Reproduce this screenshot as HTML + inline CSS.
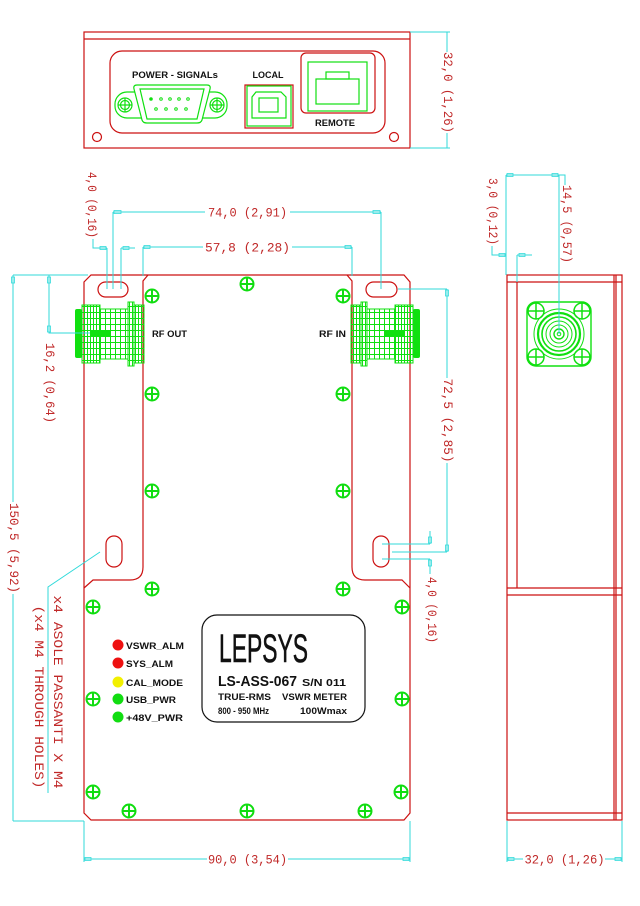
<!DOCTYPE html>
<html><head><meta charset="utf-8"><style>
html,body{margin:0;padding:0;background:#fff;}
svg{display:block;}
.r{fill:none;stroke:#cc1010;stroke-width:1.2;}
.c{fill:none;stroke:#30dada;stroke-width:1;}
.g{fill:none;stroke:#10e010;stroke-width:1.2;}
.dt{font-family:"Liberation Mono",monospace;font-size:12.5px;fill:#c02828;}
.bk{font-family:"Liberation Sans",sans-serif;font-weight:bold;fill:#111;}
</style></head><body>
<svg width="640" height="906" viewBox="0 0 640 906" xmlns="http://www.w3.org/2000/svg">
<defs>
<g id="sc"><circle r="6.5" fill="none" stroke="#10dd10" stroke-width="2"/><path d="M-6.5,0H6.5M0,-6.5V6.5" stroke="#10dd10" stroke-width="2"/></g>
<pattern id="p3" width="3" height="6" patternUnits="userSpaceOnUse"><path d="M0.5,0V6M0,0.5H3" stroke="#10e010" stroke-width="1" fill="none"/></pattern>
<pattern id="p5" width="5" height="6" patternUnits="userSpaceOnUse"><path d="M0.5,0V6M0,0.5H5" stroke="#10e010" stroke-width="1" fill="none"/></pattern>
<g id="conn">
 <rect x="75" y="309" width="7" height="49" rx="2" fill="#10e010"/>
 <rect x="82" y="305" width="18" height="58" fill="url(#p3)" stroke="#10e010"/>
 <rect x="100" y="309" width="28" height="50" fill="url(#p5)" stroke="#10e010"/>
 <rect x="128" y="302" width="6" height="64" fill="url(#p3)" stroke="#10e010"/>
 <rect x="134" y="305" width="10" height="58" fill="url(#p3)" stroke="#10e010"/>
 <rect x="90" y="330" width="20" height="7" fill="#10e010"/>
</g>
</defs>

<!-- ===== TOP PANEL VIEW ===== -->
<rect class="r" x="84" y="32" width="326" height="116"/>
<line class="r" x1="84" y1="39" x2="410" y2="39" stroke-width="1.6"/>
<rect class="r" x="110" y="51" width="275" height="82" rx="12"/>
<circle class="r" cx="97" cy="137" r="4.5"/>
<circle class="r" cx="394" cy="137" r="4.5"/>
<text class="bk" x="175" y="78" font-size="9" text-anchor="middle" textLength="86" lengthAdjust="spacingAndGlyphs">POWER - SIGNALs</text>
<text class="bk" x="268" y="78" font-size="9" text-anchor="middle" textLength="31" lengthAdjust="spacingAndGlyphs">LOCAL</text>
<text class="bk" x="335" y="126" font-size="9" text-anchor="middle" textLength="40" lengthAdjust="spacingAndGlyphs">REMOTE</text>
<!-- DB9 -->
<rect class="g" x="115" y="92" width="112" height="26" rx="12"/>
<path d="M137,85 L207,85 Q211,85 210,89 L202,120 Q201,123 197,123 L147,123 Q143,123 142,120 L134,89 Q133,85 137,85 Z" fill="#fff" stroke="#10e010" stroke-width="1.2"/>
<path d="M140,89 L204,89 L197,119 L147,119 Z" class="g"/>
<circle class="g" cx="125" cy="105" r="7"/><circle class="g" cx="125" cy="105" r="4.5"/><path class="g" d="M118,105H132M125,98V112"/>
<circle class="g" cx="217" cy="105" r="7"/><circle class="g" cx="217" cy="105" r="4.5"/><path class="g" d="M210,105H224M217,98V112"/>
<g fill="none" stroke="#10e010" stroke-width="1">
<circle cx="151" cy="99" r="1.3" fill="#10e010"/><circle cx="161" cy="99" r="1.3"/><circle cx="170" cy="99" r="1.3"/><circle cx="179" cy="99" r="1.3"/><circle cx="188" cy="99" r="1.3"/>
<circle cx="156" cy="109" r="1.3"/><circle cx="166" cy="109" r="1.3"/><circle cx="176" cy="109" r="1.3"/><circle cx="186" cy="109" r="1.3"/>
</g>
<!-- USB -->
<rect class="r" x="245" y="85" width="48" height="43"/>
<rect class="g" x="247" y="86" width="44" height="40" stroke-width="1.6"/>
<path class="g" d="M256,92 L281,92 L286,97 L286,118 L252,118 L252,97 Z" stroke-width="1.6"/>
<rect class="g" x="259" y="98" width="19" height="14" stroke-width="2"/>
<!-- RJ -->
<rect class="r" x="301" y="53" width="74" height="60" rx="5"/>
<rect class="g" x="308" y="62" width="59" height="49"/>
<rect class="g" x="316" y="79" width="43" height="25"/>
<rect class="g" x="326" y="72" width="23" height="7"/>
<!-- dim 32,0 top -->
<path class="c" d="M410,32H450M410,148H450M447,32V52M447,133V148"/>
<text class="dt" transform="translate(447,92.5) rotate(90)" text-anchor="middle" dominant-baseline="central" textLength="81" lengthAdjust="spacingAndGlyphs">32,0 (1,26)</text>

<!-- ===== MAIN FRONT VIEW ===== -->
<path class="r" d="M91,275 L404,275 L410,282 L410,813 L404,820 L91,820 L84,813 L84,282 Z"/>
<path class="r" d="M148,275 L143,281 L143,567 Q143,580 130,580 L93,580 L84,588"/>
<path class="r" d="M347,275 L352,281 L352,567 Q352,580 365,580 L402,580 L410,588"/>
<rect class="r" x="98" y="282" width="30" height="15" rx="7.5"/>
<rect class="r" x="366" y="282" width="31" height="15" rx="7.5"/>
<rect class="r" x="106" y="536" width="16" height="31" rx="8"/>
<rect class="r" x="373" y="536" width="16" height="31" rx="8"/>

<use href="#conn"/>
<use href="#conn" transform="translate(495,0) scale(-1,1)"/>
<text class="bk" x="152" y="337" font-size="9.5" textLength="35" lengthAdjust="spacingAndGlyphs">RF OUT</text>
<text class="bk" x="319" y="337" font-size="9.5" textLength="27" lengthAdjust="spacingAndGlyphs">RF IN</text>

<use href="#sc" x="247" y="284"/>
<use href="#sc" x="152" y="296"/><use href="#sc" x="343" y="296"/>
<use href="#sc" x="152" y="394"/><use href="#sc" x="343" y="394"/>
<use href="#sc" x="152" y="491"/><use href="#sc" x="343" y="491"/>
<use href="#sc" x="152" y="589"/><use href="#sc" x="343" y="589"/>
<use href="#sc" x="93" y="607"/><use href="#sc" x="402" y="607"/>
<use href="#sc" x="93" y="699"/><use href="#sc" x="402" y="699"/>
<use href="#sc" x="93" y="792"/><use href="#sc" x="401" y="792"/>
<use href="#sc" x="129" y="811"/><use href="#sc" x="247" y="811"/><use href="#sc" x="365" y="811"/>

<!-- LEDs -->
<circle cx="118" cy="645" r="5.5" fill="#ee1111"/>
<circle cx="118" cy="663" r="5.5" fill="#ee1111"/>
<circle cx="118" cy="682" r="5.5" fill="#f2f000"/>
<circle cx="118" cy="699" r="5.5" fill="#11dd11"/>
<circle cx="118" cy="717" r="5.5" fill="#11dd11"/>
<g class="bk" font-size="9.5">
<text x="126" y="649" textLength="58" lengthAdjust="spacingAndGlyphs">VSWR_ALM</text>
<text x="126" y="667" textLength="47" lengthAdjust="spacingAndGlyphs">SYS_ALM</text>
<text x="126" y="686" textLength="57" lengthAdjust="spacingAndGlyphs">CAL_MODE</text>
<text x="126" y="703" textLength="50" lengthAdjust="spacingAndGlyphs">USB_PWR</text>
<text x="126" y="721" textLength="57" lengthAdjust="spacingAndGlyphs">+48V_PWR</text>
</g>
<!-- label -->
<rect x="202" y="615" width="163" height="107" rx="15" fill="none" stroke="#111" stroke-width="1.2"/>
<text x="219" y="662" font-family="Liberation Sans,sans-serif" font-size="40" fill="#111" stroke="#111" stroke-width="0.6" textLength="89" lengthAdjust="spacingAndGlyphs">LEPSYS</text>
<text class="bk" x="218" y="686" font-size="14.5" textLength="79" lengthAdjust="spacingAndGlyphs">LS-ASS-067</text>
<text class="bk" x="302" y="686" font-size="10" textLength="44" lengthAdjust="spacingAndGlyphs">S/N 011</text>
<text class="bk" x="218" y="700" font-size="9.5" textLength="53" lengthAdjust="spacingAndGlyphs">TRUE-RMS</text>
<text class="bk" x="282" y="700" font-size="9.5" textLength="65" lengthAdjust="spacingAndGlyphs">VSWR METER</text>
<text class="bk" x="218" y="714" font-size="9.5" textLength="51" lengthAdjust="spacingAndGlyphs">800 - 950 MHz</text>
<text class="bk" x="300" y="714" font-size="9.5" textLength="47" lengthAdjust="spacingAndGlyphs">100Wmax</text>

<!-- dims top-left -->
<path class="c" d="M113,212H205M290,212H381M113,212V289M381,212V289"/>
<rect x="114" y="210.5" width="7" height="3" fill="none" stroke="#30dada" stroke-width="0.8"/>
<rect x="373" y="210.5" width="7" height="3" fill="none" stroke="#30dada" stroke-width="0.8"/>
<text class="dt" x="247.5" y="216.5" text-anchor="middle" textLength="79" lengthAdjust="spacingAndGlyphs">74,0 (2,91)</text>
<path class="c" d="M143,247H203M292,247H352M143,247V276M352,247V276"/>
<rect x="144" y="245.5" width="6" height="3" fill="none" stroke="#30dada" stroke-width="0.8"/>
<rect x="345" y="245.5" width="6" height="3" fill="none" stroke="#30dada" stroke-width="0.8"/>
<text class="dt" x="247.5" y="251.5" text-anchor="middle" textLength="85" lengthAdjust="spacingAndGlyphs">57,8 (2,28)</text>
<path class="c" d="M93,239V248H107M107,248V289M121,248V289M121,248H135"/>
<rect x="100" y="246.5" width="6" height="3" fill="none" stroke="#30dada" stroke-width="0.8"/>
<rect x="123" y="246.5" width="6" height="3" fill="none" stroke="#30dada" stroke-width="0.8"/>
<text class="dt" transform="translate(91,205) rotate(90)" text-anchor="middle" dominant-baseline="central" textLength="66" lengthAdjust="spacingAndGlyphs">4,0 (0,16)</text>

<!-- dims left -->
<path class="c" d="M13,275H88M13,275V502M13,594V821M13,821H84M49,275V333H90"/>
<rect x="11.5" y="277" width="3" height="6" fill="none" stroke="#30dada" stroke-width="0.8"/>
<rect x="47.5" y="277" width="3" height="6" fill="none" stroke="#30dada" stroke-width="0.8"/>
<rect x="47.5" y="326" width="3" height="6" fill="none" stroke="#30dada" stroke-width="0.8"/>
<text class="dt" transform="translate(49,383) rotate(90)" text-anchor="middle" dominant-baseline="central" textLength="80" lengthAdjust="spacingAndGlyphs">16,2 (0,64)</text>
<text class="dt" transform="translate(13,548) rotate(90)" text-anchor="middle" dominant-baseline="central" textLength="90" lengthAdjust="spacingAndGlyphs">150,5 (5,92)</text>
<path class="c" d="M100,552L48,587V793"/>
<text class="dt" transform="translate(57,692) rotate(90)" text-anchor="middle" dominant-baseline="central" font-size="14" textLength="193" lengthAdjust="spacingAndGlyphs">x4 ASOLE PASSANTI X M4</text>
<text class="dt" transform="translate(38,697) rotate(90)" text-anchor="middle" dominant-baseline="central" font-size="14" textLength="183" lengthAdjust="spacingAndGlyphs">(x4 M4 THROUGH HOLES)</text>

<!-- dims right of main -->
<path class="c" d="M398,289H447M447,289V378M447,463V552M392,552H447"/>
<rect x="445.5" y="290" width="3" height="6" fill="none" stroke="#30dada" stroke-width="0.8"/>
<rect x="445.5" y="545" width="3" height="6" fill="none" stroke="#30dada" stroke-width="0.8"/>
<text class="dt" transform="translate(447,420.5) rotate(90)" text-anchor="middle" dominant-baseline="central" textLength="84" lengthAdjust="spacingAndGlyphs">72,5 (2,85)</text>
<path class="c" d="M382,544H430M382,559H430M430,531V544M430,559V574"/>
<rect x="428.5" y="537" width="3" height="6" fill="none" stroke="#30dada" stroke-width="0.8"/>
<rect x="428.5" y="560" width="3" height="6" fill="none" stroke="#30dada" stroke-width="0.8"/>
<text class="dt" transform="translate(431,610) rotate(90)" text-anchor="middle" dominant-baseline="central" textLength="66" lengthAdjust="spacingAndGlyphs">4,0 (0,16)</text>

<!-- bottom dims -->
<path class="c" d="M84,821V862M410,821V862M84,859H207M288,859H410"/>
<rect x="85" y="857.5" width="6" height="3" fill="none" stroke="#30dada" stroke-width="0.8"/>
<rect x="403" y="857.5" width="6" height="3" fill="none" stroke="#30dada" stroke-width="0.8"/>
<text class="dt" x="247.5" y="863.5" text-anchor="middle" textLength="79" lengthAdjust="spacingAndGlyphs">90,0 (3,54)</text>
<path class="c" d="M507,821V862M622,821V862M507,859H523M605,859H622"/>
<rect x="508" y="857.5" width="6" height="3" fill="none" stroke="#30dada" stroke-width="0.8"/>
<rect x="615" y="857.5" width="6" height="3" fill="none" stroke="#30dada" stroke-width="0.8"/>
<text class="dt" x="564.5" y="863.5" text-anchor="middle" textLength="80" lengthAdjust="spacingAndGlyphs">32,0 (1,26)</text>

<!-- ===== SIDE VIEW ===== -->
<rect class="r" x="507" y="275" width="115" height="545"/>
<path class="r" d="M507,282H622M517,282V588M507,588H622M507,595H622M614,275V820M616,275V820M507,813H622"/>
<rect x="527" y="302" width="64" height="64" rx="9" fill="none" stroke="#10e010" stroke-width="1.4"/>
<g fill="none" stroke="#10e010" stroke-width="1.5">
<circle cx="536" cy="311" r="8"/><path d="M528,311H544M536,303V319"/>
<circle cx="582" cy="311" r="8"/><path d="M574,311H590M582,303V319"/>
<circle cx="536" cy="357" r="8"/><path d="M528,357H544M536,349V365"/>
<circle cx="582" cy="357" r="8"/><path d="M574,357H590M582,349V365"/>
</g>
<g fill="none" stroke="#10e010">
<circle cx="559" cy="334" r="25" stroke-width="1"/>
<circle cx="559" cy="334" r="21" stroke-width="2.2"/>
<circle cx="559" cy="334" r="17" stroke-width="1.6"/>
<circle cx="559" cy="334" r="13" stroke-width="1"/>
<circle cx="559" cy="334" r="9" stroke-width="1"/>
<circle cx="559" cy="334" r="5" stroke-width="1.4"/>
<circle cx="559" cy="334" r="1.8" stroke-width="1"/>
</g>
<!-- side dims -->
<path class="c" d="M506,175H565V185M506,175V275M559,175V334"/>
<rect x="507" y="173.5" width="6" height="3" fill="none" stroke="#30dada" stroke-width="0.8"/>
<rect x="552" y="173.5" width="6" height="3" fill="none" stroke="#30dada" stroke-width="0.8"/>
<text class="dt" transform="translate(566,224) rotate(90)" text-anchor="middle" dominant-baseline="central" textLength="78" lengthAdjust="spacingAndGlyphs">14,5 (0,57)</text>
<path class="c" d="M492,246V255H506M517,255V282M517,255H532"/>
<rect x="499" y="253.5" width="6" height="3" fill="none" stroke="#30dada" stroke-width="0.8"/>
<rect x="519" y="253.5" width="6" height="3" fill="none" stroke="#30dada" stroke-width="0.8"/>
<text class="dt" transform="translate(492,211.5) rotate(90)" text-anchor="middle" dominant-baseline="central" textLength="67" lengthAdjust="spacingAndGlyphs">3,0 (0,12)</text>
</svg>
</body></html>
